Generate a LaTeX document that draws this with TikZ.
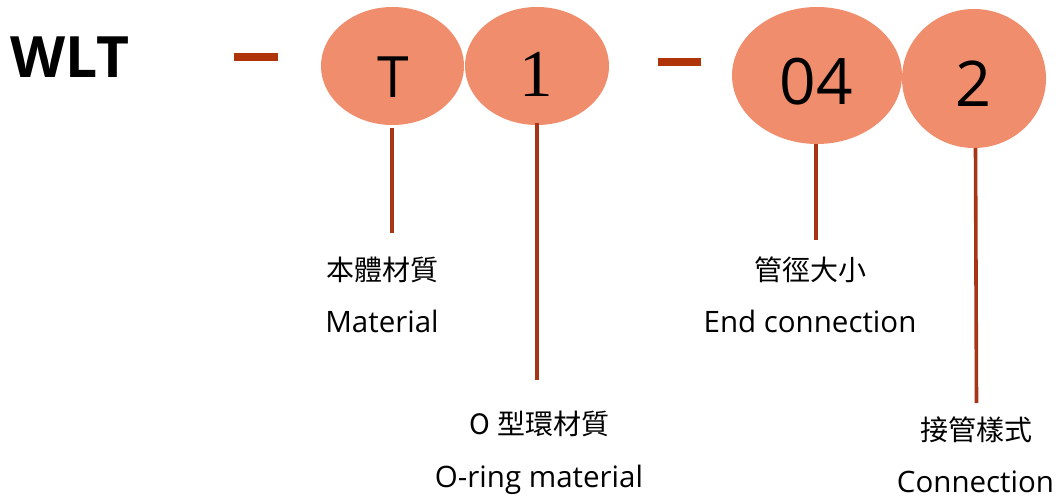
\documentclass[tikz,border=0pt]{standalone}
\usepackage{fontspec}
\setmainfont{Open Sans}
\newfontfamily\cjk{Noto Sans CJK TC}
\newfontfamily\serifone{Liberation Serif}
\usetikzlibrary{shapes.geometric}
\definecolor{ellfill}{RGB}{240,141,108}
\definecolor{linecol}{RGB}{168,52,22}
\definecolor{dashcol}{RGB}{176,52,10}
\tikzset{
  ell/.style={ellipse, fill=ellfill, draw=none, inner sep=0pt},
  conn/.style={draw=linecol, line width=3.6pt},
  dashbar/.style={fill=dashcol, draw=none, inner sep=0pt, minimum height=8pt},
  digit/.style={inner sep=0pt, anchor=base, text=black},
  enlabel/.style={inner sep=0pt, anchor=base, font=\fontsize{29.5}{31}\selectfont},
  cnlabel/.style={inner sep=0pt, anchor=center, font=\cjk\fontsize{28}{30}\selectfont}
}
\begin{document}
\begin{tikzpicture}[x=1pt,y=-1pt]
\useasboundingbox (0,0) rectangle (1060,497);
% title
\node[inner sep=0pt, anchor=base west, font=\bfseries\fontsize{57}{60}\selectfont] (wlt) at (10,78) {WLT};
% dashes
\node[dashbar, minimum width=44pt] (d1) at (256,57.5) {};
\node[dashbar, minimum width=43pt] (d2) at (679.5,62.5) {};
% ellipses
\node[ell, minimum width=143pt, minimum height=118pt] (eT) at (392.5,66) {};
\node[ell, minimum width=144pt, minimum height=118pt] (e1) at (537,66) {};
\node[ell, minimum width=170pt, minimum height=137pt] (e04) at (817,75.5) {};
\node[ell, minimum width=144pt, minimum height=139pt] (e2) at (974,78.5) {};
% digits
\node[digit, font=\fontsize{57}{60}\selectfont] (tT) at (393.5,98) {T};
\node[digit, font=\serifone\fontsize{67}{70}\selectfont] (t1) at (536.5,97) {1};
\node[digit, font=\fontsize{64}{66}\selectfont] (t04) at (816,105) {04};
\node[digit, font=\fontsize{63}{66}\selectfont] (t2) at (973,107) {2};
% connector ends
\coordinate (cT) at (392,233);
\coordinate (c1) at (537,380);
\coordinate (c04) at (816,240);
\coordinate (c2) at (976.5,403);
\draw[conn] (392,128) -- (cT);
\draw[conn] (537,123) -- (c1);
\draw[conn] (816,144) -- (c04);
\draw[conn] (975.5,148) -- (c2);
% labels
\node[cnlabel] (lT1) at (382,270) {本體材質};
\node[enlabel] (lT2) at (382,332) {Material};
\node[cnlabel] (l11) at (539.5,424) {O 型環材質};
\node[enlabel] (l12) at (539,487) {O-ring material};
\node[cnlabel] (l041) at (810,269.5) {管徑大小};
\node[enlabel] (l042) at (810,332) {End connection};
\node[cnlabel] (l21) at (976.5,430) {接管樣式};
\node[enlabel] (l22) at (975.5,492) {Connection};
\end{tikzpicture}
\end{document}
